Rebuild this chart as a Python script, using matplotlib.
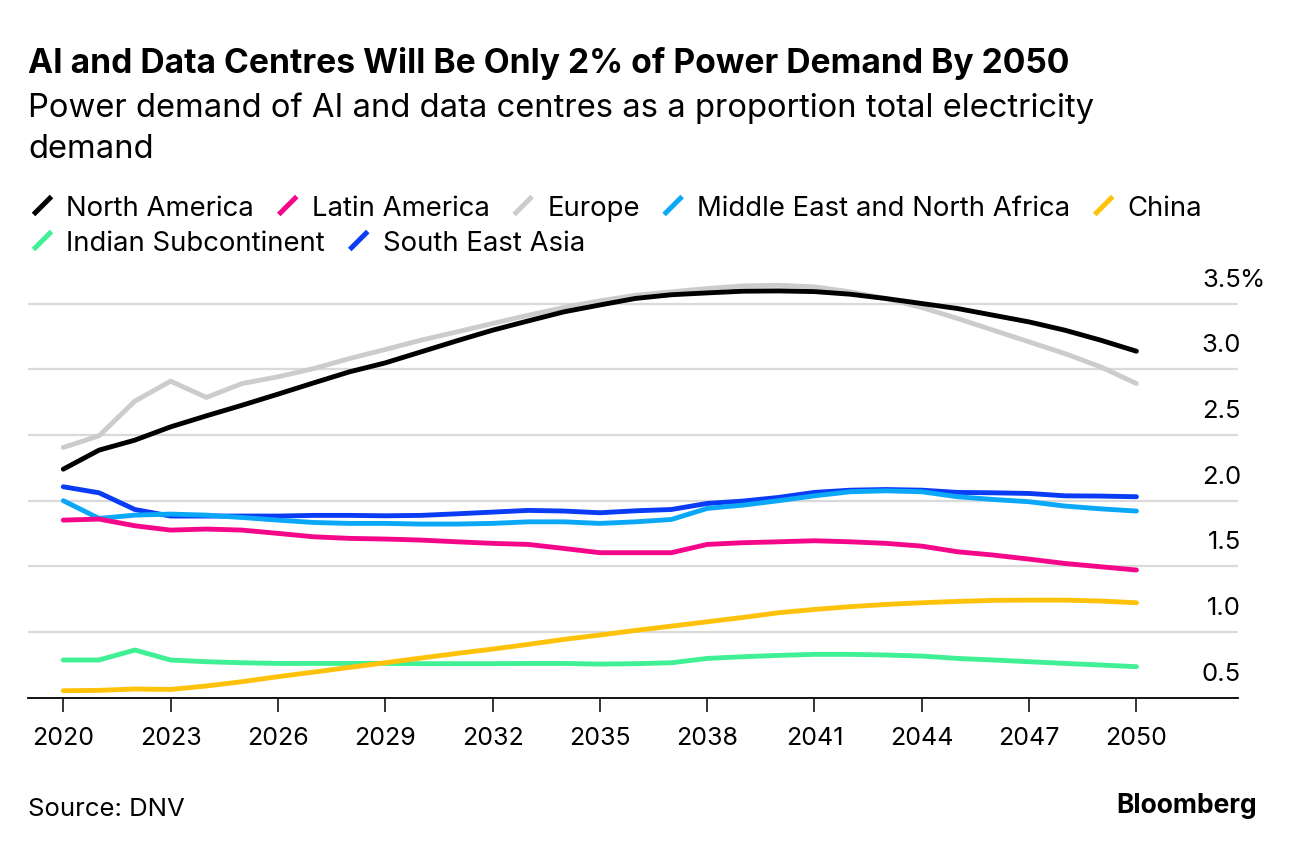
import numpy as np
import matplotlib
matplotlib.use('Agg')
import matplotlib.pyplot as plt
from matplotlib.lines import Line2D
import matplotlib.transforms as mtransforms

plt.rcParams['font.family'] = ['Inter', 'DejaVu Sans']

#data (% of total electricity demand)
years = list(range(2020, 2051))

north_america = [2.24, 2.385, 2.461, 2.562, 2.646, 2.727, 2.811, 2.897, 2.981, 3.049,
                 3.133, 3.217, 3.298, 3.369, 3.438, 3.490, 3.540, 3.568, 3.582, 3.595,
                 3.597, 3.592, 3.572, 3.539, 3.501, 3.463, 3.412, 3.361, 3.298, 3.222, 3.138]
latin_america = [1.852, 1.860, 1.809, 1.776, 1.784, 1.776, 1.751, 1.725, 1.713, 1.708,
                 1.700, 1.687, 1.675, 1.667, 1.636, 1.604, 1.604, 1.604, 1.667, 1.680,
                 1.687, 1.695, 1.687, 1.675, 1.654, 1.611, 1.586, 1.555, 1.522, 1.497, 1.472]
europe = [2.405, 2.494, 2.758, 2.910, 2.786, 2.892, 2.943, 3.006, 3.082, 3.151,
          3.222, 3.285, 3.349, 3.412, 3.471, 3.521, 3.564, 3.590, 3.615, 3.635,
          3.640, 3.628, 3.590, 3.539, 3.471, 3.387, 3.298, 3.209, 3.120, 3.019, 2.892]
mena = [2.000, 1.865, 1.890, 1.898, 1.890, 1.872, 1.852, 1.834, 1.827, 1.827,
        1.822, 1.822, 1.827, 1.839, 1.839, 1.827, 1.839, 1.857, 1.941, 1.966,
        2.000, 2.037, 2.068, 2.075, 2.068, 2.030, 2.009, 1.992, 1.959, 1.938, 1.921]
china = [0.553, 0.556, 0.566, 0.563, 0.589, 0.622, 0.660, 0.695, 0.731, 0.766,
         0.802, 0.837, 0.870, 0.906, 0.944, 0.977, 1.012, 1.045, 1.078, 1.111,
         1.147, 1.172, 1.193, 1.210, 1.223, 1.233, 1.241, 1.243, 1.243, 1.236, 1.223]
indian_sub = [0.787, 0.787, 0.863, 0.787, 0.774, 0.766, 0.761, 0.761, 0.761, 0.761,
              0.759, 0.759, 0.759, 0.761, 0.761, 0.756, 0.759, 0.766, 0.799, 0.812,
              0.822, 0.830, 0.830, 0.825, 0.817, 0.799, 0.787, 0.774, 0.761, 0.749, 0.736]
se_asia = [2.106, 2.060, 1.933, 1.883, 1.883, 1.883, 1.883, 1.888, 1.888, 1.885,
           1.888, 1.900, 1.913, 1.926, 1.921, 1.908, 1.923, 1.933, 1.979, 1.997,
           2.025, 2.063, 2.080, 2.085, 2.080, 2.063, 2.060, 2.055, 2.037, 2.035, 2.030]

names = ['North America', 'Latin America', 'Europe', 'Middle East and North Africa',
         'China', 'Indian Subcontinent', 'South East Asia']
series = [north_america, latin_america, europe, mena, china, indian_sub, se_asia]
colors = ['#000000', '#f5078a', '#cccccc', '#0aa8f7', '#ffc20a', '#3ff095', '#0a3cf5']

xticks = list(range(2020, 2051, 3))
yticks = [0.5, 1.0, 1.5, 2.0, 2.5, 3.0, 3.5]

W, H = 1296, 848
fig = plt.figure(figsize=(W / 100, H / 100), dpi=100)

def fx(px):
    return px / W

def fy(py):
    return 1 - py / H

#axes placed in pixel terms
ax_l, ax_r, ax_b, ax_t = 28, 1238, 697.7, 277.4
ax = fig.add_axes([fx(ax_l), fy(ax_b), fx(ax_r - ax_l), (ax_b - ax_t) / H])
ax.set_xlim(2019.013, 2052.84)
ax.set_ylim(0.5, 3.7)

# draw in reverse order so the first legend entries sit on top
for i in reversed(range(len(series))):
    ax.plot(years, series[i], color=colors[i], lw=3.5, solid_capstyle='round',
            solid_joinstyle='round', zorder=3 + (len(series) - i) * 0.1)

for v in yticks[1:]:
    ax.axhline(v, color='#dadada', lw=1.6, zorder=1)

for s in ['top', 'right', 'left']:
    ax.spines[s].set_visible(False)
ax.spines['bottom'].set_linewidth(1.3)
ax.spines['bottom'].set_zorder(2)

ax.set_xticks(xticks)
ax.set_xticklabels([str(x) for x in xticks])
ax.tick_params(axis='x', length=10, width=1.1, pad=11, labelsize=18)
ax.set_yticks([])

# y labels sit above the gridlines, on the right
off = mtransforms.ScaledTranslation(0, 12.3 / 72, fig.dpi_scale_trans)
for v in yticks:
    ax.text(1.0025, v, '%.1f' % v, transform=ax.get_yaxis_transform() + off,
            ha='right', va='baseline', fontsize=18.5)
    if v == yticks[-1]:
        ax.text(1.0008, v, '%', transform=ax.get_yaxis_transform() + off,
                ha='left', va='baseline', fontsize=18.5)

#titles
fig.text(fx(28), fy(73.5), 'AI and Data Centres Will Be Only 2% of Power Demand By 2050',
         fontsize=24.2, fontweight='bold', va='baseline')
fig.text(fx(28), fy(117), 'Power demand of AI and data centres as a proportion total electricity',
         fontsize=23.6, va='baseline')
fig.text(fx(28), fy(158), 'demand', fontsize=23.6, va='baseline')

#legend, laid out by measuring text
renderer = fig.canvas.get_renderer()
rows = [[0, 1, 2, 3, 4], [5, 6]]
baselines = [216, 251]
for row, base in zip(rows, baselines):
    x = 33.5
    for i in row:
        fig.add_artist(Line2D([fx(x), fx(x + 18)], [fy(base - 1.5), fy(base - 19.5)],
                              color=colors[i], lw=3.6, solid_capstyle='butt',
                              transform=fig.transFigure))
        t = fig.text(fx(x + 33), fy(base), names[i], fontsize=19.8, va='baseline')
        bb = t.get_window_extent(renderer=renderer)
        x = bb.x1 + 24.5

#footer
fig.text(fx(28), fy(816.5), 'Source: DNV', fontsize=18.5, va='baseline')
fig.text(fx(1257), fy(813), 'Bloomberg', fontsize=19, fontweight='bold',
         va='baseline', ha='right')

fig.savefig('out.png', dpi=100)
